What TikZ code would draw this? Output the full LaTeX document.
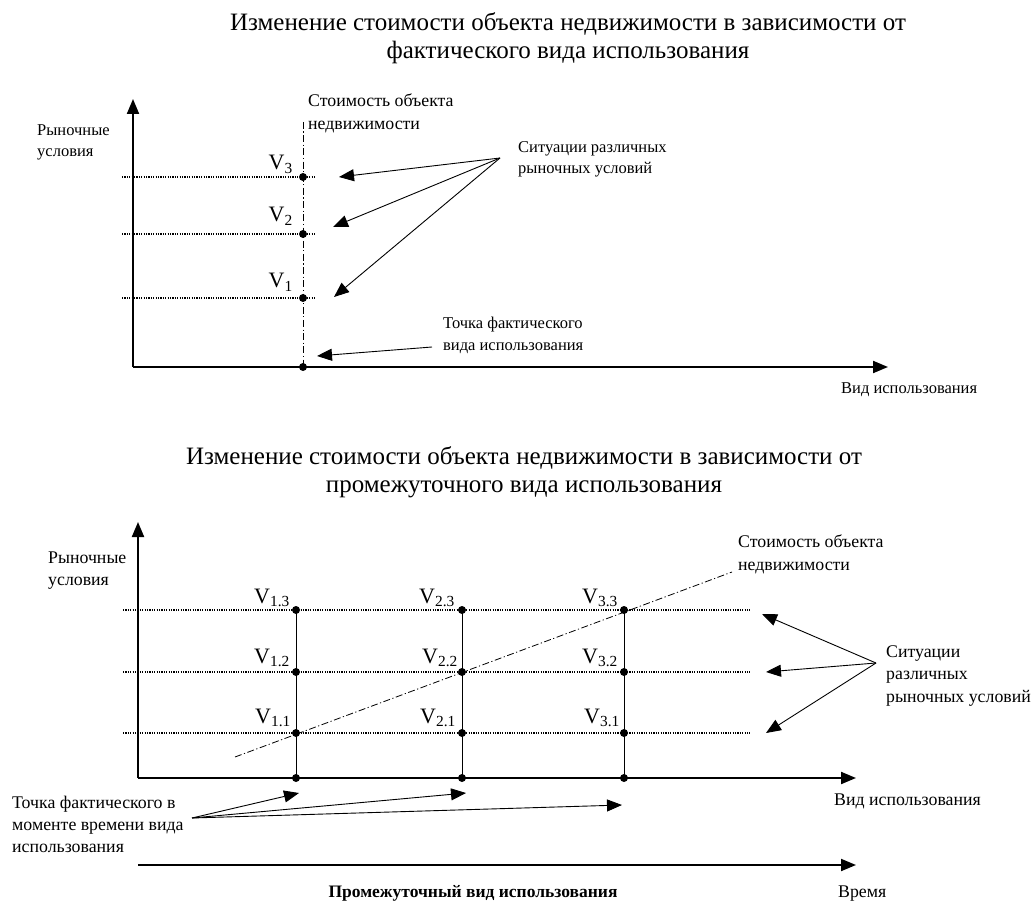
\documentclass[tikz,border=0pt]{standalone}
\usepackage{fontspec}
\setmainfont{Liberation Serif}
\usetikzlibrary{arrows.meta}
\tikzset{
  axisline/.style={line width=2.1pt,-{Triangle[length=15pt,width=12pt]}},
  timeline/.style={line width=1.9pt,-{Triangle[length=15pt,width=12pt]}},
  ptr/.style={line width=0.9pt,-{Triangle[length=15pt,width=12pt]}},
  gridline/.style={line width=1.1pt,dash pattern=on 1.1pt off 1.3pt},
  costline/.style={line width=0.8pt,dash pattern=on 7pt off 2.5pt on 1.2pt off 2.5pt},
  colline/.style={line width=0.9pt},
  pt/.style={circle,fill=black,inner sep=0pt,minimum size=8pt},
  ttl/.style={inner sep=0pt,anchor=base,font=\fontsize{25}{28}\selectfont},
  txt/.style={inner sep=0pt,anchor=base west,font=\fontsize{17.8}{22}\selectfont},
  stxt/.style={inner sep=0pt,anchor=base west,font=\fontsize{16.5}{21}\selectfont},
  vlab/.style={inner sep=0pt,anchor=base east,font=\fontsize{22}{26}\selectfont},
}
\begin{document}
\begin{tikzpicture}[x=1pt,y=-1pt]
\useasboundingbox (0,0) rectangle (1036,901);
% ---------- top title ----------
\node[ttl] (t1a) at (568,31) {Изменение стоимости объекта недвижимости в зависимости от};
\node[ttl] (t1b) at (568,59) {фактического вида использования};
% ---------- top chart ----------
\coordinate (O1) at (133,367);
\coordinate (Y1) at (133,99);
\coordinate (X1) at (888,367);
\draw[axisline] (O1) -- (Y1);
\draw[axisline] (O1) -- (X1);
\coordinate (c1top) at (303,122);
\node[pt] (p0) at (303,367) {};
\draw[costline] (c1top) -- (p0.center);
\node[pt] (p3) at (303,177) {};
\node[pt] (p2) at (303,234) {};
\node[pt] (p1) at (303,298) {};
\coordinate (g3a) at (122,177); \coordinate (g3b) at (316,177);
\coordinate (g2a) at (122,234); \coordinate (g2b) at (316,234);
\coordinate (g1a) at (122,298); \coordinate (g1b) at (316,298);
\draw[gridline] (g3a) -- (g3b);
\draw[gridline] (g2a) -- (g2b);
\draw[gridline] (g1a) -- (g1b);
\node[vlab] (v3) at (293,170) {V\textsubscript{3}};
\node[vlab] (v2) at (293,222) {V\textsubscript{2}};
\node[vlab] (v1) at (293,288) {V\textsubscript{1}};
\node[txt] (cost1a) at (308,107) {Стоимость объекта};
\node[txt] (cost1b) at (308,130) {недвижимости};
\node[stxt] (mk1a) at (37,136) {Рыночные};
\node[stxt] (mk1b) at (37,157) {условия};
\node[stxt] (sit1a) at (518,153) {Ситуации различных};
\node[stxt] (sit1b) at (518,174) {рыночных условий};
\node[stxt] (pt1a) at (443,328) {Точка фактического};
\node[stxt] (pt1b) at (443,350) {вида использования};
\node[stxt] (use1) at (841,393) {Вид использования};
\coordinate (s1) at (500,158);
\coordinate (a13) at (339,177);
\coordinate (a12) at (333,227);
\coordinate (a11) at (334,297);
\draw[ptr] (s1) -- (a13);
\draw[ptr] (s1) -- (a12);
\draw[ptr] (s1) -- (a11);
\coordinate (s2) at (432,347);
\coordinate (a10) at (317,356);
\draw[ptr] (s2) -- (a10);
% ---------- bottom title ----------
\node[ttl] (t2a) at (524,464) {Изменение стоимости объекта недвижимости в зависимости от};
\node[ttl] (t2b) at (524,492) {промежуточного вида использования};
% ---------- bottom chart ----------
\coordinate (O2) at (138,778);
\coordinate (Y2) at (138,522);
\coordinate (X2) at (856,778);
\draw[axisline] (O2) -- (Y2);
\draw[axisline] (O2) -- (X2);
\coordinate (T0) at (138,865);
\coordinate (T1) at (856,865);
\draw[timeline] (T0) -- (T1);
% grid rows
\coordinate (r3a) at (123,610); \coordinate (r3b) at (750,610);
\coordinate (r2a) at (123,672); \coordinate (r2b) at (750,672);
\coordinate (r1a) at (123,733); \coordinate (r1b) at (750,733);
\draw[gridline] (r3a) -- (r3b);
\draw[gridline] (r2a) -- (r2b);
\draw[gridline] (r1a) -- (r1b);
% columns
\foreach \c/\x in {1/296,2/462,3/624}{
  \node[pt] (q\c0) at (\x,778) {};
  \node[pt] (q\c1) at (\x,733) {};
  \node[pt] (q\c2) at (\x,672) {};
  \node[pt] (q\c3) at (\x,610) {};
  \draw[colline] (q\c3.center) -- (q\c0.center);
}
% cost line
\coordinate (cs0) at (235,757);
\coordinate (cs1) at (732,572);
\draw[costline] (cs0) -- (cs1);
% value labels
\node[vlab] (w13) at (290,603) {V\textsubscript{1.3}};
\node[vlab] (w12) at (290,663) {V\textsubscript{1.2}};
\node[vlab] (w11) at (291,723) {V\textsubscript{1.1}};
\node[vlab] (w23) at (455,603) {V\textsubscript{2.3}};
\node[vlab] (w22) at (458,663) {V\textsubscript{2.2}};
\node[vlab] (w21) at (456,723) {V\textsubscript{2.1}};
\node[vlab] (w33) at (618,603) {V\textsubscript{3.3}};
\node[vlab] (w32) at (618,663) {V\textsubscript{3.2}};
\node[vlab] (w31) at (620,723) {V\textsubscript{3.1}};
% texts
\node[txt] (mk2a) at (48,563) {Рыночные};
\node[txt] (mk2b) at (48,585) {условия};
\node[txt] (cost2a) at (738,547) {Стоимость объекта};
\node[txt] (cost2b) at (738,570) {недвижимости};
\node[txt] (sit2a) at (886,657) {Ситуации};
\node[txt] (sit2b) at (886,679) {различных};
\node[txt] (sit2c) at (886,702) {рыночных условий};
\node[txt] (pt2a) at (12,808) {Точка фактического в};
\node[txt] (pt2b) at (12,830) {моменте времени вида};
\node[txt] (pt2c) at (12,852) {использования};
\node[txt] (use2) at (834,805) {Вид использования};
\node[txt] (time) at (838,897) {Время};
\node[inner sep=0pt,anchor=base,font=\fontsize{17.5}{21}\selectfont\bfseries] (inter) at (473,897) {Промежуточный вид использования};
% pointer arrows
\coordinate (s3) at (876,663);
\coordinate (b33) at (762,614);
\coordinate (b32) at (766,672);
\coordinate (b31) at (766,733);
\draw[ptr] (s3) -- (b33);
\draw[ptr] (s3) -- (b32);
\draw[ptr] (s3) -- (b31);
\coordinate (s4) at (192,818);
\coordinate (b1) at (299,793);
\coordinate (b2) at (466,793);
\coordinate (b3) at (622,805);
\draw[ptr] (s4) -- (b1);
\draw[ptr] (s4) -- (b2);
\draw[ptr] (s4) -- (b3);
\end{tikzpicture}
\end{document}
